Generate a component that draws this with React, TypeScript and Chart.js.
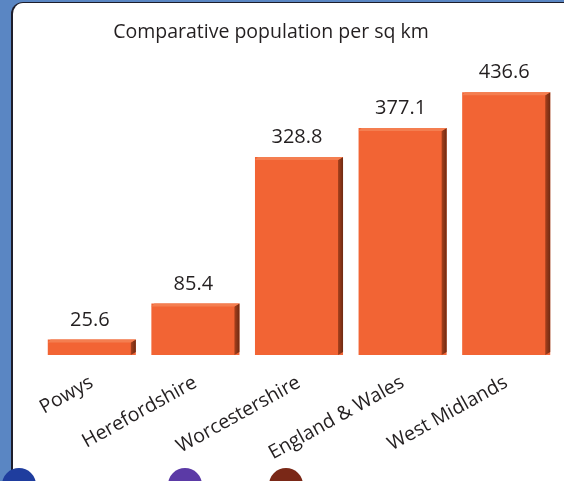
import React, { useEffect, useRef } from "react";
import { Chart, registerables } from "chart.js";

Chart.register(...registerables);

const categories = ["Powys", "Herefordshire", "Worcestershire", "England & Wales", "West Midlands"];
const populationPerSqKm = [25.6, 85.4, 328.8, 377.1, 436.6];
const titleText = "Comparative population per sq km";

const FONT = "'Open Sans', sans-serif";
const TEXT = "#231f20";
const BAR = "#f26434";

const bar3dPlugin = {
  id: "bar3d",
  afterDatasetsDraw(chart: any) {
    const ctx = chart.ctx;
    const meta = chart.getDatasetMeta(0);
    ctx.save();
    meta.data.forEach((el: any, i: number) => {
      const p = el.getProps(["x", "y", "base", "width"], true);
      const left = p.x - p.width / 2;
      const right = p.x + p.width / 2;
      const side = 5;
      const g = ctx.createLinearGradient(right - side, 0, right, 0);
      g.addColorStop(0, "#a8401c");
      g.addColorStop(1, "#6e2a12");
      ctx.fillStyle = g;
      ctx.beginPath();
      ctx.moveTo(right - side, p.y + 3);
      ctx.lineTo(right, p.y);
      ctx.lineTo(right, p.base - 3);
      ctx.lineTo(right - side, p.base);
      ctx.closePath();
      ctx.fill();
      ctx.fillStyle = "#f47e50";
      ctx.beginPath();
      ctx.moveTo(left, p.y + 3);
      ctx.lineTo(left + 3, p.y);
      ctx.lineTo(right, p.y);
      ctx.lineTo(right - side, p.y + 3);
      ctx.closePath();
      ctx.fill();
      ctx.fillStyle = TEXT;
      ctx.font = `20px ${FONT}`;
      ctx.textAlign = "center";
      ctx.textBaseline = "alphabetic";
      ctx.fillText(String(populationPerSqKm[i]), p.x - 2, p.y - 14);
    });
    ctx.fillStyle = TEXT;
    ctx.font = `19.5px ${FONT}`;
    ctx.textAlign = "center";
    ctx.textBaseline = "alphabetic";
    ctx.fillText(titleText, 271, 38);
    ctx.restore();
  },
};

export default function App() {
  const ref = useRef<HTMLCanvasElement>(null);
  useEffect(() => {
    if (!ref.current) return;
    const chart = new Chart(ref.current, {
      type: "bar",
      data: {
        labels: categories,
        datasets: [
          {
            data: populationPerSqKm,
            backgroundColor: BAR,
            borderWidth: 0,
            barPercentage: 0.85,
            categoryPercentage: 1,
          },
        ],
      },
      options: {
        responsive: false,
        animation: false,
        layout: { padding: { left: 40, right: 6, top: 54, bottom: 0 } },
        plugins: { legend: { display: false }, tooltip: { enabled: false }, title: { display: false } },
        scales: {
          x: {
            grid: { display: false, drawTicks: false },
            border: { display: false },
            ticks: {
              color: TEXT,
              font: { family: FONT, size: 19.5 },
              minRotation: 29,
              maxRotation: 29,
              padding: 16,
              autoSkip: false,
            },
            afterFit: (scale: any) => {
              scale.height = 126;
            },
          },
          y: { display: false, min: 0, max: 500 },
        },
      },
      plugins: [bar3dPlugin],
    });
    return () => chart.destroy();
  }, []);

  const circle = (left: number, color: string) => (
    <div
      style={{
        position: "absolute",
        left: left - 17,
        top: 468,
        width: 34,
        height: 34,
        borderRadius: "50%",
        background: color,
      }}
    />
  );

  return (
    <div style={{ position: "fixed", left: 0, top: 0, width: 564, height: 481, background: "#5a86c3", overflow: "hidden" }}>
      <div
        style={{
          position: "absolute",
          left: 11,
          top: 2,
          width: 600,
          height: 520,
          background: "#ffffff",
          borderTop: "1px solid #1d1d2b",
          borderLeft: "2px solid #1d1d2b",
          borderTopLeftRadius: 12,
        }}
      />
      {circle(19, "#1f3d9e")}
      {circle(185, "#5b3aa6")}
      {circle(286, "#7a2817")}
      <canvas ref={ref} width={564} height={481} style={{ position: "absolute", left: 0, top: 0 }} />
    </div>
  );
}
